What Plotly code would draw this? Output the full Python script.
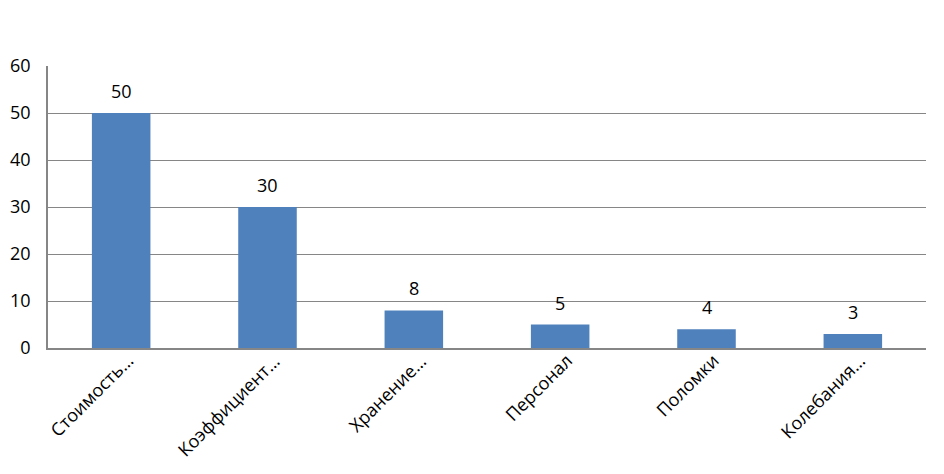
import plotly.graph_objects as go

categories = ["Стоимость…", "Коэффициент…", "Хранение…", "Персонал", "Поломки", "Колебания…"]
values = [50, 30, 8, 5, 4, 3]
y_ticks = [0, 10, 20, 30, 40, 50, 60]

FONT = "Open Sans, Noto Sans, sans-serif"

fig = go.Figure()
fig.add_trace(go.Bar(
    x=categories, y=values,
    marker=dict(color="#4F81BD", line=dict(width=0)),
    width=0.4,
))
for c, v in zip(categories, values):
    fig.add_annotation(x=c, y=v, text=str(v), showarrow=False,
                       yanchor="bottom", yshift=8,
                       font=dict(family=FONT, size=18, color="#000000"))
# rotated category labels
for c in categories:
    fig.add_annotation(x=c, y=0, text=c, showarrow=False, textangle=-45,
                       xanchor="right", yanchor="top", xshift=20, yshift=2,
                       font=dict(family=FONT, size=18, color="#000000"))

fig.update_layout(
    width=944, height=474,
    margin=dict(l=40, r=26, t=58, b=134),
    paper_bgcolor="white", plot_bgcolor="white",
    showlegend=False,
    font=dict(family=FONT, size=18, color="#000000"),
)
fig.update_xaxes(
    type="category", range=[-0.5, len(categories) - 0.5],
    showticklabels=False, showgrid=False, automargin=False,
    showline=True, linecolor="#868686", linewidth=1.5,
    ticks="",
)
fig.update_yaxes(
    range=[0, 60], tickvals=y_ticks, automargin=False,
    showgrid=True, gridcolor="#868686", gridwidth=1,
    showline=True, linecolor="#868686", linewidth=1.5,
    zeroline=False, ticks="", ticklabelstandoff=12,
    tickfont=dict(family=FONT, size=18),
)
fig.write_html("out.html")
